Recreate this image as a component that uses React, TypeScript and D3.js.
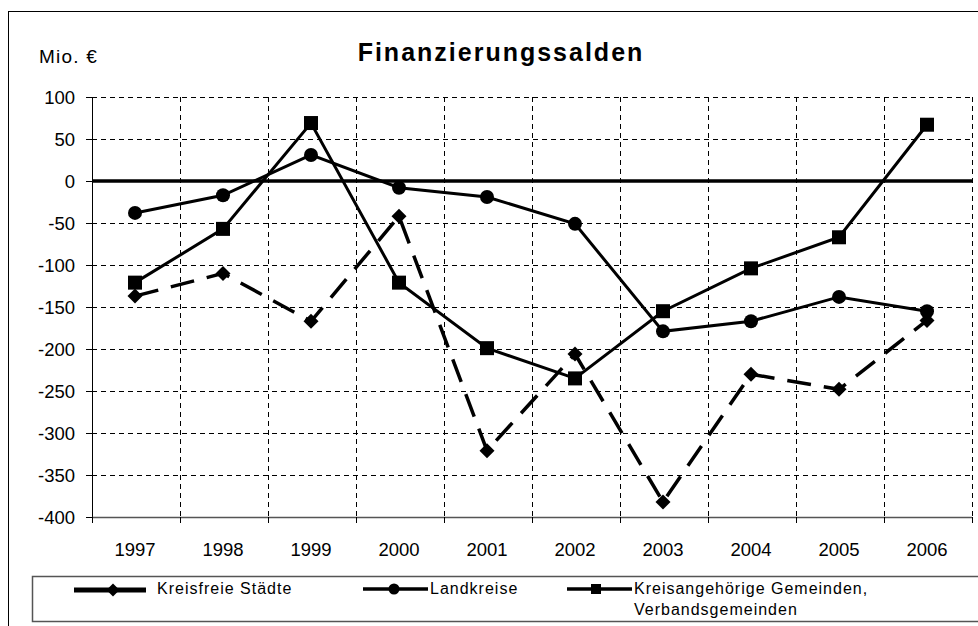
import * as d3 from "d3";
import React from "react";

const years = ["1997", "1998", "1999", "2000", "2001", "2002", "2003", "2004", "2005", "2006"];
const kreisfreieStaedte = [-137, -110, -167, -42, -321, -206, -382, -230, -248, -166];
const landkreise = [-38, -17, 31, -8, -19, -51, -179, -167, -138, -155];
const kreisangehoerige = [-121, -57, 69, -121, -199, -235, -155, -104, -67, 67];
const yTicks = [100, 50, 0, -50, -100, -150, -200, -250, -300, -350, -400];

const FONT = "'Liberation Sans', Arial, sans-serif";

export default function App() {
  const left = 92, right = 972, top = 97, bottom = 517;
  const x = d3.scaleBand<string>().domain(years).range([left, right]);
  const y = d3.scaleLinear().domain([-400, 100]).range([bottom, top]);
  const cx = (i: number) => (x(years[i]) as number) + x.bandwidth() / 2 - 1;

  const line = d3
    .line<number>()
    .x((d, i) => cx(i))
    .y((d) => y(d));

  const bounds = years.map((yr) => x(yr) as number).concat([right]);

  const diamond = (px: number, py: number, s: number) =>
    `M${px},${py - s}L${px + s},${py}L${px},${py + s}L${px - s},${py}Z`;

  return (
    <svg
      width={978}
      height={626}
      style={{ position: "absolute", left: 0, top: 0, background: "#fff" }}
      fontFamily={FONT}
    >
      <rect x={8.5} y={11.5} width={1000} height={700} fill="#fff" stroke="#000" strokeWidth={1} />

      {/* title */}
      <text x={501} y={61} textAnchor="middle" fontSize={25} fontWeight="bold" letterSpacing={2}>
        Finanzierungssalden
      </text>
      <text x={39} y={63} fontSize={19} letterSpacing={1.2}>
        Mio. €
      </text>

      {/* grid */}
      <g stroke="#000" strokeWidth={1} strokeDasharray="5,4">
        {yTicks
          .filter((t) => t !== 0 && t !== -400)
          .map((t) => (
            <line key={t} x1={left} x2={right} y1={Math.round(y(t)) + 0.5} y2={Math.round(y(t)) + 0.5} />
          ))}
        {bounds.slice(1).map((b, i) => (
          <line key={i} x1={Math.round(b) + 0.5} x2={Math.round(b) + 0.5} y1={top} y2={bottom} />
        ))}
      </g>

      {/* axes */}
      <line x1={left + 0.5} x2={left + 0.5} y1={top} y2={bottom} stroke="#000" strokeWidth={1} />
      {yTicks.map((t) => (
        <g key={t}>
          <line x1={left - 6} x2={left} y1={Math.round(y(t)) + 0.5} y2={Math.round(y(t)) + 0.5} stroke="#000" />
          <text x={75} y={y(t) + 6.5} textAnchor="end" fontSize={18.5}>
            {t}
          </text>
        </g>
      ))}
      <line x1={left} x2={right} y1={bottom + 0.5} y2={bottom + 0.5} stroke="#555" strokeWidth={1.5} />
      {bounds.map((b, i) => (
        <line key={i} x1={Math.round(b) + 0.5} x2={Math.round(b) + 0.5} y1={bottom} y2={bottom + 6} stroke="#000" />
      ))}
      {years.map((yr, i) => (
        <text key={yr} x={cx(i)} y={556} textAnchor="middle" fontSize={18.5}>
          {yr}
        </text>
      ))}
      <line x1={left} x2={right} y1={y(0)} y2={y(0)} stroke="#000" strokeWidth={3.5} />

      {/* series */}
      <path d={line(kreisfreieStaedte) || ""} fill="none" stroke="#000" strokeWidth={3.5} strokeDasharray="24,13" />
      <path d={line(landkreise) || ""} fill="none" stroke="#000" strokeWidth={3} />
      <path d={line(kreisangehoerige) || ""} fill="none" stroke="#000" strokeWidth={3} />
      {kreisfreieStaedte.map((v, i) => (
        <path key={"d" + i} d={diamond(cx(i), y(v), 7.5)} fill="#000" />
      ))}
      {landkreise.map((v, i) => (
        <circle key={"c" + i} cx={cx(i)} cy={y(v)} r={7} fill="#000" />
      ))}
      {kreisangehoerige.map((v, i) => (
        <rect key={"s" + i} x={cx(i) - 7} y={y(v) - 7} width={14} height={14} fill="#000" />
      ))}

      {/* legend */}
      <rect x={32.5} y={576.5} width={980} height={45} fill="#fff" stroke="#555" strokeWidth={1.5} />
      <g fontSize={16} letterSpacing={1}>
        <line x1={74} x2={146} y1={590} y2={590} stroke="#000" strokeWidth={5} />
        <path d={diamond(113, 590, 6.5)} fill="#000" />
        <text x={157} y={594}>Kreisfreie Städte</text>

        <line x1={363} x2={428} y1={589} y2={589} stroke="#000" strokeWidth={3.5} />
        <circle cx={394} cy={589} r={5.5} fill="#000" />
        <text x={430} y={594}>Landkreise</text>

        <line x1={567} x2={632} y1={589} y2={589} stroke="#000" strokeWidth={3.5} />
        <rect x={591} y={584} width={10} height={10} fill="#000" />
        <text x={634} y={594}>Kreisangehörige Gemeinden,</text>
        <text x={634} y={615}>Verbandsgemeinden</text>
      </g>
    </svg>
  );
}
